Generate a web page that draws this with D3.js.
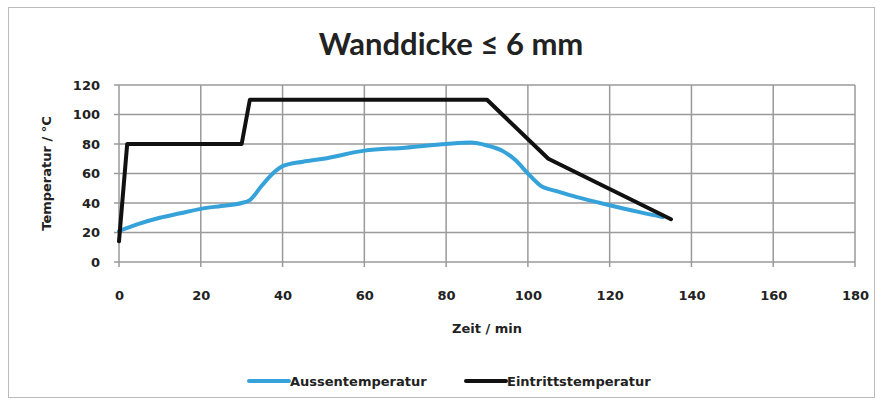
<!DOCTYPE html>
<html>
<head>
<meta charset="utf-8">
<script src="https://cdn.jsdelivr.net/npm/d3@7"></script>
<style>
  body { margin: 0; background: #fff; }
  svg text { font-family: "DejaVu Sans", sans-serif; font-weight: bold; fill: #222; }
</style>
</head>
<body>
<svg id="chart" width="883" height="405"></svg>
<script>
// values
var xTicks = [0, 20, 40, 60, 80, 100, 120, 140, 160, 180];
var yTicks = [0, 20, 40, 60, 80, 100, 120];

var aussenTime = [0, 5, 10, 15, 20, 25, 30, 32, 35, 38, 40, 45, 50, 60, 70, 80, 86, 90, 94, 97, 100, 103, 107, 112, 120, 127, 133];
var aussenTemp = [21, 26, 30, 33, 36, 38, 40, 42, 52, 61, 65, 68, 70, 75.5, 77.5, 80, 81, 79, 75, 69, 60, 52, 48, 44, 38.5, 34, 30.5];

var eintrittTime = [0, 2, 30, 32, 90, 105, 135];
var eintrittTemp = [14, 80, 80, 110, 110, 70, 29];

var seriesNames = ["Aussentemperatur", "Eintrittstemperatur"];
var seriesColors = ["#35a2da", "#111111"];

var svg = d3.select("#chart");
var W = 883, H = 405;
var m = {left: 119, right: 28, top: 85, bottom: 143};

// outer frame
svg.append("rect").attr("x", 8.5).attr("y", 7.5).attr("width", W - 17).attr("height", H - 15)
  .attr("fill", "none").attr("stroke", "#bbb").attr("stroke-width", 1);

var x = d3.scaleLinear().domain([0, 180]).range([m.left, W - m.right]);
var y = d3.scaleLinear().domain([0, 120]).range([H - m.bottom, m.top]);

// grid
svg.append("g").selectAll("line.v").data(xTicks).enter().append("line")
  .attr("x1", function(d) { return x(d); }).attr("x2", function(d) { return x(d); })
  .attr("y1", y(120)).attr("y2", y(0) + 5)
  .attr("stroke", "#9a9a9a").attr("stroke-width", 1.5);
svg.append("g").selectAll("line.h").data(yTicks).enter().append("line")
  .attr("x1", x(0) - 5).attr("x2", x(180))
  .attr("y1", function(d) { return y(d); }).attr("y2", function(d) { return y(d); })
  .attr("stroke", "#9a9a9a").attr("stroke-width", 1.5);

// axes labels
var xAxis = d3.axisBottom(x).tickValues(xTicks).tickSize(0).tickPadding(29);
svg.append("g").attr("transform", "translate(0," + y(0) + ")").call(xAxis)
  .call(function(g) { g.select(".domain").remove(); })
  .selectAll("text").style("font-size", "13px");

var yAxis = d3.axisLeft(y).tickValues(yTicks).tickSize(0).tickPadding(19);
svg.append("g").attr("transform", "translate(" + x(0) + ",0)").call(yAxis)
  .call(function(g) { g.select(".domain").remove(); })
  .selectAll("text").style("font-size", "13px");

// titles
svg.append("text").attr("x", 451).attr("y", 55).attr("text-anchor", "middle")
  .style("font-family", "Lato, sans-serif").style("font-size", "31px").text("Wanddicke ≤ 6 mm");
svg.append("text").attr("x", 487).attr("y", 333).attr("text-anchor", "middle")
  .style("font-size", "13px").text("Zeit / min");
svg.append("text").attr("transform", "translate(51," + y(60) + ") rotate(-90)")
  .attr("text-anchor", "middle").style("font-size", "13px").text("Temperatur / °C");

// lines
var line = d3.line().x(function(d) { return x(d[0]); }).y(function(d) { return y(d[1]); });
var aussen = d3.zip(aussenTime, aussenTemp);
var eintritt = d3.zip(eintrittTime, eintrittTemp);

svg.append("path").datum(aussen)
  .attr("d", line.curve(d3.curveMonotoneX))
  .attr("fill", "none").attr("stroke", seriesColors[0]).attr("stroke-width", 4)
  .attr("stroke-linejoin", "round").attr("stroke-linecap", "round");
svg.append("path").datum(eintritt)
  .attr("d", d3.line().x(function(d) { return x(d[0]); }).y(function(d) { return y(d[1]); }))
  .attr("fill", "none").attr("stroke", seriesColors[1]).attr("stroke-width", 4)
  .attr("stroke-linejoin", "round").attr("stroke-linecap", "round");

// legend
var legX = [249, 466];
var leg = svg.append("g").selectAll("g").data(seriesNames).enter().append("g")
  .attr("transform", function(d, i) { return "translate(" + legX[i] + ",381)"; });
leg.append("line").attr("x1", 0).attr("x2", 40).attr("y1", 0).attr("y2", 0)
  .attr("stroke", function(d, i) { return seriesColors[i]; }).attr("stroke-width", 4)
  .attr("stroke-linecap", "round");
leg.append("text").attr("x", 41).attr("y", 5).style("font-size", "13px").text(function(d) { return d; });
</script>
</body>
</html>
